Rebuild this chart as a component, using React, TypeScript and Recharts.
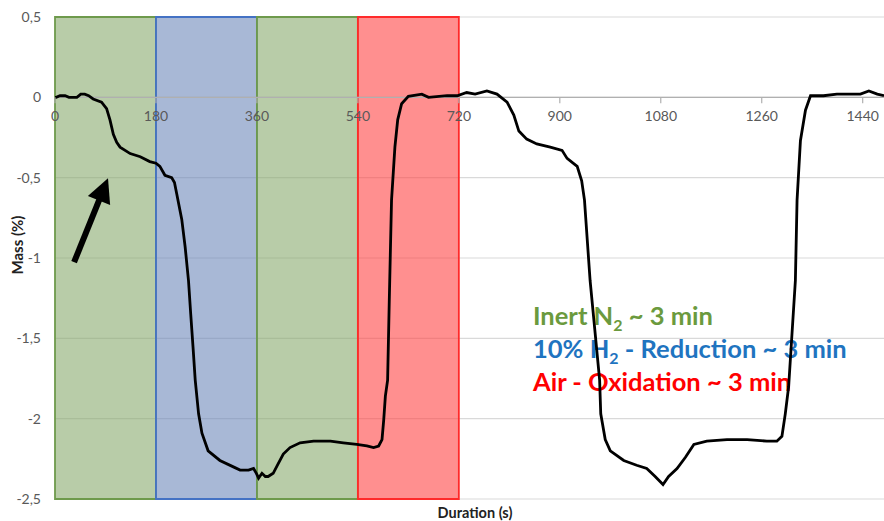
import {
  ComposedChart,
  CartesianGrid,
  Line,
  ReferenceArea,
  ReferenceDot,
  ReferenceLine,
  XAxis,
  YAxis,
} from "recharts";

// time (s) and mass change (%)
const times = [
  0, 2, 9, 18, 25, 32, 39, 46, 53, 60, 68, 83, 92, 98, 104, 110, 116, 134, 152, 169,
  180, 187, 196, 208, 213, 217, 226, 232, 238, 242, 246, 250, 256, 262, 273, 294, 318, 330, 345, 354,
  359, 363, 369, 375, 380, 389, 398, 407, 419, 437, 461, 491, 514, 538, 556, 568, 577, 583, 586, 589,
  593, 596, 600, 606, 611, 618, 630, 654, 666, 699, 717, 734, 749, 770, 788, 806, 818, 827, 841, 859,
  883, 904, 913, 931, 939, 944, 954, 971, 973, 981, 990, 1014, 1037, 1055, 1070, 1084, 1094, 1109, 1124, 1139,
  1162, 1198, 1234, 1269, 1287, 1296, 1302, 1308, 1320, 1323, 1329, 1338, 1347, 1370, 1394, 1436, 1451, 1466, 1478,
];
const mass = [
  0, 0, 0.01, 0.01, 0, 0, 0, 0.02, 0.02, 0.01, -0.01, -0.03, -0.07, -0.14, -0.23, -0.28, -0.31, -0.35, -0.37, -0.4,
  -0.41, -0.43, -0.485, -0.5, -0.53, -0.6, -0.76, -0.93, -1.14, -1.35, -1.55, -1.76, -1.97, -2.09, -2.2, -2.26, -2.3, -2.32, -2.32, -2.31,
  -2.34, -2.37, -2.34, -2.36, -2.36, -2.34, -2.28, -2.22, -2.18, -2.15, -2.14, -2.14, -2.15, -2.16, -2.17, -2.18, -2.17, -2.13, -2.01, -1.86,
  -1.76, -1.26, -0.64, -0.31, -0.14, -0.04, 0.006, 0.02, 0, 0.01, 0.01, 0.03, 0.02, 0.04, 0.02, -0.03, -0.11, -0.21, -0.26, -0.29,
  -0.31, -0.33, -0.38, -0.43, -0.52, -0.64, -1.14, -1.76, -1.97, -2.13, -2.2, -2.26, -2.29, -2.31, -2.36, -2.41, -2.36, -2.31, -2.24, -2.16,
  -2.14, -2.13, -2.13, -2.14, -2.14, -2.11, -1.97, -1.8, -1.14, -0.64, -0.27, -0.08, 0.01, 0.01, 0.02, 0.02, 0.04, 0.02, 0.01,
];

const xTicks = [0, 180, 360, 540, 720, 900, 1080, 1260, 1440];
const yTicks = [0.5, 0, -0.5, -1, -1.5, -2, -2.5];

// gas atmosphere steps: [start, end, kind]
const phaseStart = [0, 180, 360, 540];
const phaseEnd = [180, 360, 540, 720];
const phaseKind = ["n2", "h2", "n2", "air"];

const arrowFrom = { x: 34, y: -1.026 };
const arrowTo = { x: 94.5, y: -0.504 };

const data = times.map((t, i) => ({ t, m: mass[i] }));

const phaseStyle: Record<string, { fill: string; stroke: string }> = {
  n2: { fill: "rgb(137,170,110)", stroke: "#6e9a4c" },
  h2: { fill: "rgb(110,137,187)", stroke: "#4472c4" },
  air: { fill: "rgb(255,68,68)", stroke: "#ff2a2a" },
};

const font = "Lato, 'Open Sans', sans-serif";

function Arrow(props: any) {
  const { x1, y1, x2, y2 } = props;
  if (x1 == null) return null;
  const dx = x2 - x1;
  const dy = y2 - y1;
  const len = Math.sqrt(dx * dx + dy * dy);
  const ux = dx / len;
  const uy = dy / len;
  const headLen = 24;
  const headW = 12;
  const bx = x2 - ux * headLen;
  const by = y2 - uy * headLen;
  const px = -uy;
  const py = ux;
  return (
    <g>
      <line x1={x1} y1={y1} x2={bx + ux * 2} y2={by + uy * 2} stroke="#000" strokeWidth={6} />
      <polygon
        points={`${x2},${y2} ${bx + px * headW},${by + py * headW} ${bx - px * headW},${by - py * headW}`}
        fill="#000"
      />
    </g>
  );
}

export default function App() {
  return (
    <div style={{ position: "fixed", left: 0, top: 0, width: 884, height: 521, overflow: "hidden", background: "#fff" }}>
      {/* legend text sits under the trace, as in the original */}
      <div
        style={{
          position: "absolute",
          left: 533,
          top: 299,
          zIndex: 0,
          fontFamily: font,
          fontWeight: 700,
          fontSize: 25.5,
          lineHeight: "33px",
          whiteSpace: "nowrap",
        }}
      >
        <div style={{ color: "#6b9a3e" }}>
          Inert N<sub style={{ fontSize: 16, lineHeight: 0 }}>2</sub> ~ 3 min
        </div>
        <div style={{ color: "#1f74c0" }}>
          10% H<sub style={{ fontSize: 16, lineHeight: 0 }}>2</sub> - Reduction ~ 3 min
        </div>
        <div style={{ color: "#ff0000" }}>Air - Oxidation ~ 3 min</div>
      </div>
      <div style={{ position: "absolute", left: 0, top: 0, zIndex: 1 }}>
        <ComposedChart
          width={884}
          height={521}
          data={data}
          margin={{ top: 17, right: 0, left: 0, bottom: 0 }}
        >
          <CartesianGrid horizontal vertical={false} stroke="#d9d9d9" strokeWidth={1.2} />
          <XAxis
            dataKey="t"
            type="number"
            domain={[0, 1478]}
            ticks={xTicks}
            tick={false}
            axisLine={false}
            tickLine={false}
            height={22}
            label={{
              content: () => (
                <text
                  x={475}
                  y={518}
                  textAnchor="middle"
                  style={{ fontFamily: font, fontWeight: 700, fontSize: 14.5, fill: "#222" }}
                >
                  Duration (s)
                </text>
              ),
            }}
          />
          <YAxis
            type="number"
            domain={[-2.5, 0.5]}
            ticks={yTicks}
            width={55}
            axisLine={false}
            tickLine={false}
            tickSize={0}
            tickMargin={14}
            tickFormatter={(v: number) => String(v).replace(".", ",")}
            tick={{ fontFamily: font, fontSize: 14, fill: "#595959" }}
            label={{
              content: () => (
                <text
                  transform="translate(23,245) rotate(-90)"
                  textAnchor="middle"
                  style={{ fontFamily: font, fontWeight: 700, fontSize: 15, fill: "#222" }}
                >
                  Mass (%)
                </text>
              ),
            }}
          />
          {phaseStart.map((s, i) => (
            <ReferenceArea
              key={s}
              x1={s}
              x2={phaseEnd[i]}
              y1={-2.5}
              y2={0.5}
              fill={phaseStyle[phaseKind[i]].fill}
              fillOpacity={0.6}
              stroke={phaseStyle[phaseKind[i]].stroke}
              strokeWidth={1.8}
            />
          ))}
          <ReferenceLine y={0} stroke="#b0b0b0" strokeWidth={1.2} />
          {xTicks.map((t) => (
            <ReferenceDot
              key={t}
              x={t}
              y={0}
              r={0}
              shape={(p: any) => (
                <g>
                  <line x1={p.cx} y1={p.cy} x2={p.cx} y2={p.cy + 6} stroke="#b0b0b0" strokeWidth={1.2} />
                  <text
                    x={p.cx}
                    y={p.cy + 24}
                    textAnchor="middle"
                    style={{ fontFamily: font, fontSize: 14, fill: "#595959" }}
                  >
                    {t}
                  </text>
                </g>
              )}
            />
          ))}
          <ReferenceLine
            segment={[arrowFrom, arrowTo]}
            ifOverflow="visible"
            shape={(p: any) => <Arrow {...p} />}
          />
          <Line
            type="linear"
            dataKey="m"
            stroke="#000"
            strokeWidth={2.8}
            dot={false}
            isAnimationActive={false}
          />
        </ComposedChart>
      </div>
    </div>
  );
}
